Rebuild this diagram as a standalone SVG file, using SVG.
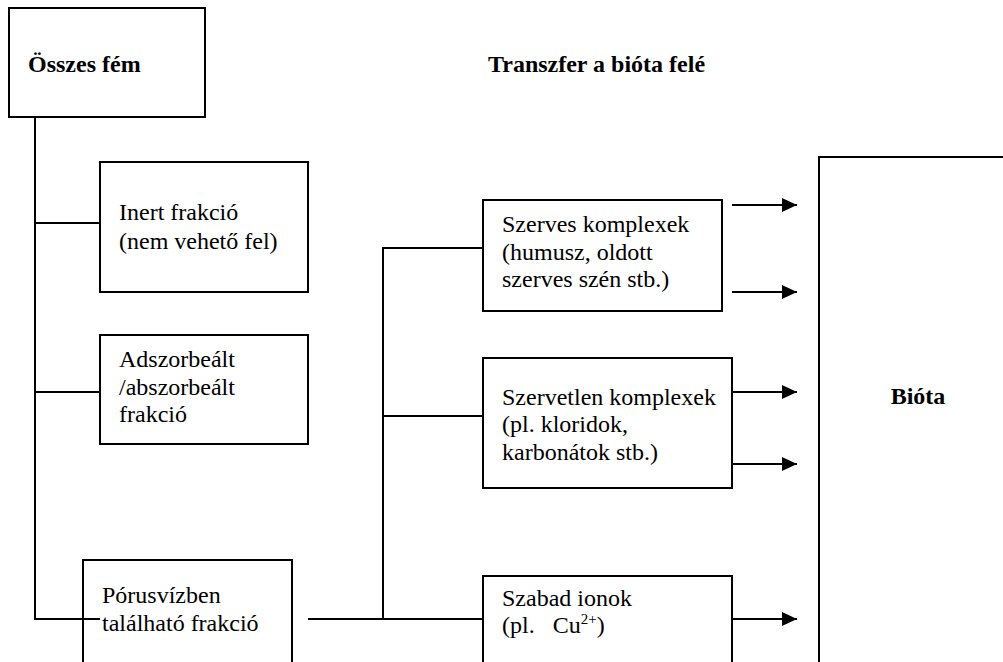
<svg xmlns="http://www.w3.org/2000/svg" width="1003" height="662" viewBox="0 0 1003 662" font-family="'Liberation Serif', 'DejaVu Serif', serif">
<style>
.box{fill:#fff;stroke:#000;stroke-width:2}
.ln{fill:none;stroke:#000;stroke-width:2}
text{font-family:'Liberation Serif','DejaVu Serif',serif;font-size:24px;fill:#000}
.b{font-weight:bold}
</style>
<defs>
<marker id="ah" markerWidth="16" markerHeight="14" refX="15" refY="7" markerUnits="userSpaceOnUse" orient="auto">
<path d="M0,0 L15,7 L0,14 Z" fill="#000"/>
</marker>
</defs>
<rect width="1003" height="662" fill="#fff"/>
<g id="title"><text class="b" x="488" y="72">Transzfer a bióta felé</text></g>
<g id="connectors">
<path class="ln" d="M35,117 V619 H100"/>
<path class="ln" d="M35,223 H100"/>
<path class="ln" d="M35,392 H100"/>
<path class="ln" d="M308,619 H483"/>
<path class="ln" d="M383,619 V248 H483"/>
<path class="ln" d="M383,416 H483"/>
<path class="ln" d="M732,205 H797" marker-end="url(#ah)"/>
<path class="ln" d="M732,292 H797" marker-end="url(#ah)"/>
<path class="ln" d="M732,392 H797" marker-end="url(#ah)"/>
<path class="ln" d="M732,464 H797" marker-end="url(#ah)"/>
<path class="ln" d="M732,619 H797" marker-end="url(#ah)"/>
</g>
<g id="osszes"><rect class="box" x="9" y="8" width="196" height="109"/><text class="b" x="28" y="72">Összes fém</text></g>
<g id="inert"><rect class="box" x="100" y="162" width="208" height="130"/><text x="119" y="220">Inert frakció</text><text x="119" y="249">(nem vehető fel)</text></g>
<g id="adszorbealt"><rect class="box" x="100" y="335" width="208" height="109"/><text x="119" y="367">Adszorbeált</text><text x="119" y="395">/abszorbeált</text><text x="119" y="422">frakció</text></g>
<g id="porusviz"><rect class="box" x="83" y="560" width="209" height="110"/><path class="ln" d="M83,619 H100"/><text x="102" y="603">Pórusvízben</text><text x="102" y="631">található frakció</text></g>
<g id="szerves"><rect class="box" x="483" y="200" width="239" height="111"/><text x="502" y="232">Szerves komplexek</text><text x="502" y="260">(humusz, oldott</text><text x="502" y="287">szerves szén stb.)</text></g>
<g id="szervetlen"><rect class="box" x="483" y="358" width="249" height="130"/><text x="502" y="405">Szervetlen komplexek</text><text x="502" y="432">(pl. kloridok,</text><text x="502" y="460">karbonátok stb.)</text></g>
<g id="szabad"><rect class="box" x="483" y="576" width="249" height="100"/><text x="502" y="606" xml:space="preserve">Szabad ionok</text><text x="502" y="633" xml:space="preserve">(pl.   Cu<tspan font-size="15" dy="-9">2+</tspan><tspan dy="9">)</tspan></text></g>
<g id="biota"><rect class="box" x="819" y="157" width="200" height="520"/><text class="b" x="918" y="404" text-anchor="middle">Bióta</text></g>
</svg>
